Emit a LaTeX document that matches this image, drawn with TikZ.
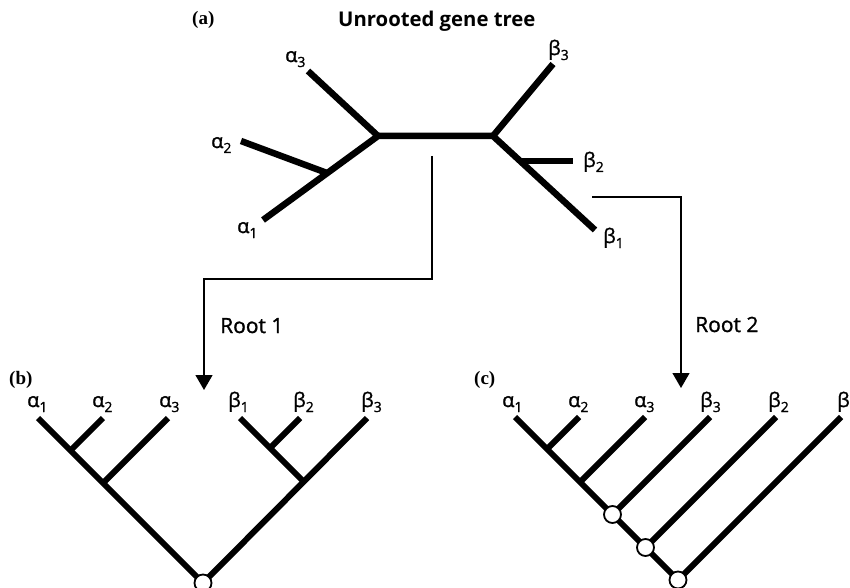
\documentclass[tikz,border=0pt]{standalone}
\usepackage{fontspec}
\setmainfont{Open Sans}
\newfontfamily\lblfont{Open Sans}[FakeBold=1.2]
\newfontfamily\panelfont{Liberation Serif}
\usetikzlibrary{arrows.meta}
\newcommand\gl[2]{#1\raisebox{-5pt}{\fontsize{14}{14}\selectfont #2}}
\begin{document}
\begin{tikzpicture}[x=1pt,y=-1pt,
  br/.style={line width=6.5pt},
  cb/.style={line width=6pt},
  conn/.style={line width=1.3pt},
  arr/.style={-{Triangle[length=15pt,width=17pt]}},
  tiplbl/.style={font=\lblfont\fontsize{20}{22}\selectfont, inner sep=0pt, anchor=base west},
  rootlbl/.style={font=\lblfont\fontsize{21}{23}\selectfont, inner sep=0pt, anchor=base west},
  panel/.style={font=\panelfont\bfseries\fontsize{19}{20}\selectfont, inner sep=0pt, anchor=base west},
  knot/.style={circle, draw, fill=white, line width=1.8pt, minimum size=17pt, inner sep=0pt}
]
\useasboundingbox (0,0) rectangle (850,588);

% ---------- (a) unrooted tree ----------
\node[panel] (pa) at (192,25) {(a)};
\node[font=\bfseries\fontsize{20.3}{22}\selectfont, inner sep=0pt, anchor=base west] (title) at (338,27) {Unrooted gene tree};

\coordinate (L) at (378,136);
\coordinate (R) at (493,136);
\coordinate (A12) at (327,173);
\coordinate (ta3) at (308,71);
\coordinate (ta2) at (241,141);
\coordinate (ta1) at (263,220);
\coordinate (tb3) at (553,64);
\coordinate (tb1) at (595,230);
\coordinate (B2j) at (521,161);
\coordinate (tb2) at (573,161);

\draw[br] (ta1) -- (L) -- (R) -- (tb1);
\draw[br] (ta3) -- (L);
\draw[br] (ta2) -- (A12);
\draw[br] (tb3) -- (R);
\draw[br] (B2j) -- (tb2);

\node[tiplbl] (la3) at (285,62) {\gl{α}{3}};
\node[tiplbl] (la2) at (211,148) {\gl{α}{2}};
\node[tiplbl] (la1) at (237,233) {\gl{α}{1}};
\node[tiplbl] (lb3) at (548,55) {\gl{β}{3}};
\node[tiplbl] (lb2) at (583,167) {\gl{β}{2}};
\node[tiplbl] (lb1) at (603,243) {\gl{β}{1}};

% ---------- connectors ----------
\coordinate (r1s) at (432,156);
\coordinate (r1a) at (432,279);
\coordinate (r1b) at (204,279);
\coordinate (r1e) at (204,390);
\draw[conn,arr] (r1s) -- (r1a) -- (r1b) -- (r1e);
\node[rootlbl] (root1) at (220,333) {Root 1};

\coordinate (r2s) at (592,197);
\coordinate (r2a) at (681,197);
\coordinate (r2e) at (681,388);
\draw[conn,arr] (r2s) -- (r2a) -- (r2e);
\node[rootlbl] (root2) at (695,332) {Root 2};

% ---------- (b) ----------
\node[panel] (pb) at (9,384) {(b)};
\coordinate (b1) at (38,418);
\coordinate (b2) at (103,418);
\coordinate (b3) at (168,418);
\coordinate (b4) at (240,418);
\coordinate (b5) at (300,418);
\coordinate (b6) at (367,418);
\coordinate (bj12) at (70.5,450.5);
\coordinate (bj123) at (103,483);
\coordinate (bj45) at (270,448);
\coordinate (bj456) at (303.5,481.5);
\coordinate (broot) at (203,583);
\draw[cb] (b1) -- (broot) -- (b6);
\draw[cb] (b2) -- (bj12);
\draw[cb] (b3) -- (bj123);
\draw[cb] (b4) -- (bj456);
\draw[cb] (b5) -- (bj45);
\node[knot] (bk) at (broot) {};

\node[tiplbl] (lba1) at (27,407) {\gl{α}{1}};
\node[tiplbl] (lba2) at (92,407) {\gl{α}{2}};
\node[tiplbl] (lba3) at (159,407) {\gl{α}{3}};
\node[tiplbl] (lbb1) at (228,407) {\gl{β}{1}};
\node[tiplbl] (lbb2) at (293,407) {\gl{β}{2}};
\node[tiplbl] (lbb3) at (361,407) {\gl{β}{3}};

% ---------- (c) ----------
\node[panel] (pc) at (474,384) {(c)};
\coordinate (c1) at (515,417);
\coordinate (c2) at (579,417);
\coordinate (c3) at (645,417);
\coordinate (c4) at (710,417);
\coordinate (c5) at (776,417);
\coordinate (c6) at (841,417);
\coordinate (cj2) at (547,449);
\coordinate (cj3) at (580,482);
\coordinate (cj4) at (612.5,514.5);
\coordinate (cj5) at (645.5,547.5);
\coordinate (cj6) at (678,580);
\draw[cb] (c1) -- (cj6);
\draw[cb] (c2) -- (cj2);
\draw[cb] (c3) -- (cj3);
\draw[cb] (c4) -- (cj4);
\draw[cb] (c5) -- (cj5);
\draw[cb] (c6) -- (cj6);
\node[knot] (ck4) at (cj4) {};
\node[knot] (ck5) at (cj5) {};
\node[knot] (ck6) at (cj6) {};

\node[tiplbl] (lca1) at (502,407) {\gl{α}{1}};
\node[tiplbl] (lca2) at (568,407) {\gl{α}{2}};
\node[tiplbl] (lca3) at (634,407) {\gl{α}{3}};
\node[tiplbl] (lcb3) at (700,407) {\gl{β}{3}};
\node[tiplbl] (lcb2) at (768,407) {\gl{β}{2}};
\node[tiplbl] (lcb1) at (837,407) {β};
\end{tikzpicture}
\end{document}
